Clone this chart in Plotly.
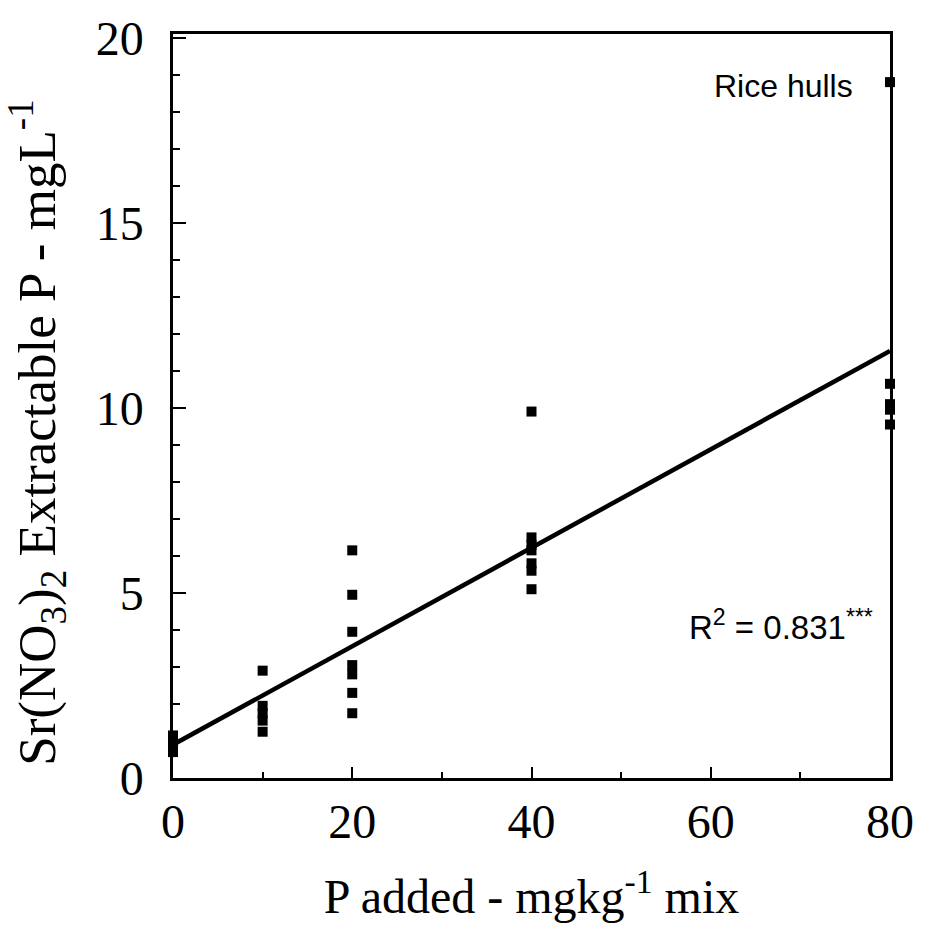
import plotly.graph_objects as go

# Data
x_p0 = [0, 0, 0, 0, 0]
y_p0 = [0.7, 0.8, 0.95, 1.05, 1.15]
x_p10 = [10, 10, 10, 10, 10]
y_p10 = [2.9, 1.95, 1.75, 1.55, 1.25]
x_p20 = [20, 20, 20, 20, 20, 20, 20]
y_p20 = [6.15, 4.95, 3.95, 3.05, 2.8, 2.3, 1.75]
x_p40 = [40, 40, 40, 40, 40, 40, 40]
y_p40 = [9.9, 6.5, 6.3, 6.15, 5.8, 5.6, 5.1]
x_p80 = [80, 80, 80, 80, 80]
y_p80 = [18.8, 10.65, 10.1, 9.95, 9.55]

fit_intercept = 0.9
fit_slope = 0.1330
fit_x = [0, 80]

x_ticks = [0, 20, 40, 60, 80]
y_ticks = [0, 5, 10, 15, 20]

xs = x_p0 + x_p10 + x_p20 + x_p40 + x_p80
ys = y_p0 + y_p10 + y_p20 + y_p40 + y_p80
fit_y = [fit_intercept + fit_slope * v for v in fit_x]

fig = go.Figure()
fig.add_trace(go.Scatter(x=fit_x, y=fit_y, mode="lines",
                         line=dict(color="black", width=4.5), showlegend=False,
                         cliponaxis=False))
fig.add_trace(go.Scatter(x=xs, y=ys, mode="markers",
                         marker=dict(symbol="square", size=10, color="black"),
                         showlegend=False, cliponaxis=False))

serif = "Liberation Serif, Times New Roman, serif"
sans = "Liberation Sans, Arial, sans-serif"

fig.add_annotation(x=0.951, y=0.930, xref="paper", yref="paper",
                   text="Rice hulls", showarrow=False, xanchor="right",
                   yanchor="middle", font=dict(family=sans, size=32, color="black"))
fig.add_annotation(x=0.979, y=0.205, xref="paper", yref="paper",
                   text="R<sup>2</sup> = 0.831<sup>***</sup>", showarrow=False,
                   xanchor="right", yanchor="middle",
                   font=dict(family=sans, size=33, color="black"))
# y-axis title as rotated annotation to match position
fig.add_annotation(x=-0.19, y=0.465, xref="paper", yref="paper",
                   text="Sr(NO<sub>3</sub>)<sub>2</sub> Extractable P - mgL<sup>-1</sup>",
                   showarrow=False, textangle=-90, xanchor="center", yanchor="middle",
                   font=dict(family=serif, size=53, color="black"))

fig.update_layout(
    width=926, height=927,
    margin=dict(l=173, r=31, t=32, b=148),
    paper_bgcolor="white", plot_bgcolor="white",
    font=dict(family=serif, color="black"),
)
fig.update_xaxes(
    range=[0, 80], tickvals=x_ticks, ticktext=[str(v) for v in x_ticks],
    showgrid=False, zeroline=False,
    showline=True, linecolor="black", linewidth=2.5, mirror=True,
    ticks="inside", ticklen=11, tickwidth=1.5, tickcolor="black",
    minor=dict(tickvals=[10, 30, 50, 70], ticks="inside", ticklen=6, tickwidth=1.5, tickcolor="black"),
    tickfont=dict(family=serif, size=48, color="black"),
    ticklabelstandoff=0,
    title=dict(text="P added - mgkg<sup>-1</sup> mix",
               font=dict(family=serif, size=48, color="black"), standoff=33),
)
fig.update_yaxes(
    range=[0, 20.1], tickvals=y_ticks, ticktext=[str(v) for v in y_ticks],
    showgrid=False, zeroline=False,
    showline=True, linecolor="black", linewidth=2.5, mirror=True,
    ticks="inside", ticklen=13, tickwidth=1.5, tickcolor="black",
    minor=dict(dtick=1, ticks="inside", ticklen=7, tickwidth=1.5, tickcolor="black"),
    tickfont=dict(family=serif, size=48, color="black"),
    ticklabelstandoff=17,
)

fig.write_html("out.html")
